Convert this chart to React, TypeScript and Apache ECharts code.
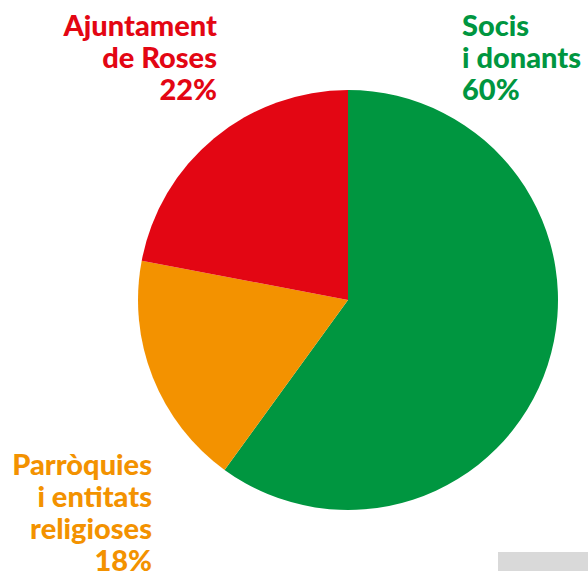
import React, { useEffect, useRef } from "react";
import * as echarts from "echarts";

const categories = ["Socis\ni donants", "Parròquies\ni entitats\nreligioses", "Ajuntament\nde Roses"];
const values = [60, 18, 22];
const colors = ["#009640", "#F39200", "#E30613"];

export default function App() {
  const ref = useRef<HTMLDivElement>(null);
  useEffect(() => {
    const chart = echarts.init(ref.current!, null, { renderer: "svg" });
    const font = "900 29px Lato, 'Open Sans', sans-serif";
    const labelText = (i: number) => categories[i] + "\n" + values[i] + "%";
    const mk = (i: number, x: number, y: number, align: string) => ({
      type: "text",
      x,
      y,
      style: {
        text: labelText(i),
        fill: colors[i],
        font,
        lineHeight: 32,
        align,
        verticalAlign: "top",
      },
    });
    chart.setOption({
      animation: false,
      backgroundColor: "#ffffff",
      series: [
        {
          type: "pie",
          center: [348, 300],
          radius: [0, 210],
          startAngle: 90,
          clockwise: true,
          label: { show: false },
          labelLine: { show: false },
          silent: true,
          data: categories.map((c, i) => ({
            name: c,
            value: values[i],
            itemStyle: { color: colors[i] },
          })),
        },
      ],
      graphic: [
        mk(0, 462, 8, "left"),
        mk(2, 217, 8, "right"),
        mk(1, 152, 447, "right"),
        {
          type: "rect",
          shape: { x: 498, y: 552, width: 90, height: 19 },
          style: { fill: "#D9D9D9" },
        },
      ],
    });
    return () => chart.dispose();
  }, []);
  return (
    <div
      ref={ref}
      style={{ position: "fixed", left: 0, top: 0, width: 588, height: 571 }}
    />
  );
}
